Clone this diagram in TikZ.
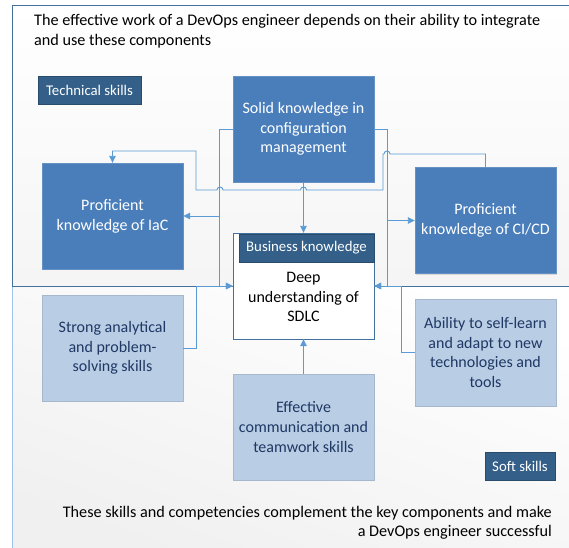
\documentclass[tikz,border=0pt]{standalone}
\usepackage{fontspec}
\setmainfont{Carlito}
\usetikzlibrary{arrows.meta,shadows}

\definecolor{bluMedio}{HTML}{4A7EBB}
\definecolor{bluScuro}{HTML}{335F88}
\definecolor{bluChiaro}{HTML}{B9CDE5}
\definecolor{testoScuro}{HTML}{1F3864}
\definecolor{bluLinea}{HTML}{5B9BD5}
\definecolor{bordoPannello}{HTML}{41719C}
\definecolor{bordoLeggero}{HTML}{9DC3E6}

\begin{document}
\begin{tikzpicture}[x=1pt,y=-1pt]
    % Definizione stili
    \tikzstyle{ombra}=[drop shadow={shadow xshift=1.2pt, shadow yshift=-1.2pt, opacity=0.25}]
    \tikzstyle{tecnica}=[draw=bluMedio!85!white, fill=bluMedio, text=white, minimum width=141pt, minimum height=106pt, inner sep=0pt, align=center, font=\fontsize{16}{19.8}\selectfont, ombra]
    \tikzstyle{morbida}=[draw=bluChiaro!90!black, fill=bluChiaro, text=testoScuro, minimum width=141pt, minimum height=106pt, inner sep=0pt, align=center, font=\fontsize{16}{19.8}\selectfont, ombra]
    \tikzstyle{etichetta}=[draw=bluScuro!80!black, fill=bluScuro, text=white, minimum height=28pt, inner sep=0pt, font=\fontsize{14.8}{17}\selectfont, ombra]
    \tikzstyle{collegamento}=[-{Triangle[length=7pt,width=6.5pt]}, draw=bluLinea, line width=0.9pt]

    \useasboundingbox (0,0) rectangle (569,547);
    \clip (0,0) rectangle (569,547);

    % Pannelli di sfondo
    \fill[top color=black!6, bottom color=white, shading angle=160] (12,286) rectangle (580,560);
    \draw[bordoLeggero, line width=1pt] (12,286) -- (12,560);
    \draw[top color=white, bottom color=black!4, draw=bordoPannello, line width=1pt] (12,5) rectangle (580,286);

    % Testi
    \node[anchor=north west, inner sep=0pt, align=left, font=\fontsize{16.2}{20}\selectfont] (titolo) at (34,14)
        {The effective work of a DevOps engineer depends on their ability to integrate\\and use these components};
    \node[anchor=north east, inner sep=0pt, align=right, font=\fontsize{16.2}{19.5}\selectfont] (conclusione) at (552,506)
        {These skills and competencies complement the key components and make\\a DevOps engineer successful};

    % Competenze tecniche
    \node[etichetta, minimum width=103pt] (lbl_tecniche) at (89.5,90) {Technical skills};
    \node[tecnica] (box_config) at (303.5,129) {Solid knowledge in\\configuration\\management};
    \node[tecnica] (box_iac) at (112.5,216) {Proficient\\knowledge of IaC};
    \node[tecnica] (box_cicd) at (485.5,220.5) {Proficient\\knowledge of CI/CD};

    % Conoscenza di business
    \node[draw=bordoPannello, fill=white, minimum width=141pt, minimum height=106pt, ombra] (box_sdlc) at (303.5,286) {};
    \node[align=center, font=\fontsize{16}{19.5}\selectfont] (txt_sdlc) at (303.5,297) {Deep\\understanding of\\SDLC};
    \node[etichetta, minimum width=135pt] (lbl_business) at (306.5,248) {Business knowledge};

    % Competenze trasversali
    \node[morbida] (box_analisi) at (112.5,348) {Strong analytical\\and problem-\\solving skills};
    \node[morbida, minimum height=107pt] (box_apprendimento) at (485.5,352.5) {Ability to self-learn\\and adapt to new\\technologies and\\tools};
    \node[morbida] (box_comunicazione) at (303.5,427) {Effective\\communication and\\teamwork skills};
    \node[etichetta, minimum width=70pt] (lbl_soft) at (520,466) {Soft skills};

    % Frecce dalla gestione della configurazione
    \draw[collegamento] (box_config.west) -- ++(-13,0) |- (box_iac.east);
    \draw[collegamento] (box_config.west) -- ++(-13,0) |- (box_sdlc.west);
    \draw[collegamento] (box_config.east) -- ++(13,0) |- (box_cicd.west);
    \draw[collegamento] (box_config.east) -- ++(13,0) |- (box_sdlc.east);
    \draw[collegamento] (box_config.south) -- (box_sdlc.north);

    % Freccia da CI/CD a IaC (con salti sugli incroci)
    \draw[collegamento] (box_cicd.north) |- (390,154) arc[start angle=0, end angle=180, radius=3pt] -- (383,154)
        |- (306.5,190) arc[start angle=0, end angle=180, radius=3pt] -- (223,190)
        arc[start angle=0, end angle=180, radius=3pt] -- (196,190) |- (box_iac.north |- 0,151) -- (box_iac.north);

    % Frecce dalle competenze trasversali
    \draw[collegamento] (box_analisi.east) -- ++(13,0) |- (box_sdlc.west);
    \draw[collegamento] (box_apprendimento.west) -- ++(-13,0) |- (box_sdlc.east);
    \draw[collegamento] (box_comunicazione.north) -- (box_sdlc.south);
\end{tikzpicture}
\end{document}
